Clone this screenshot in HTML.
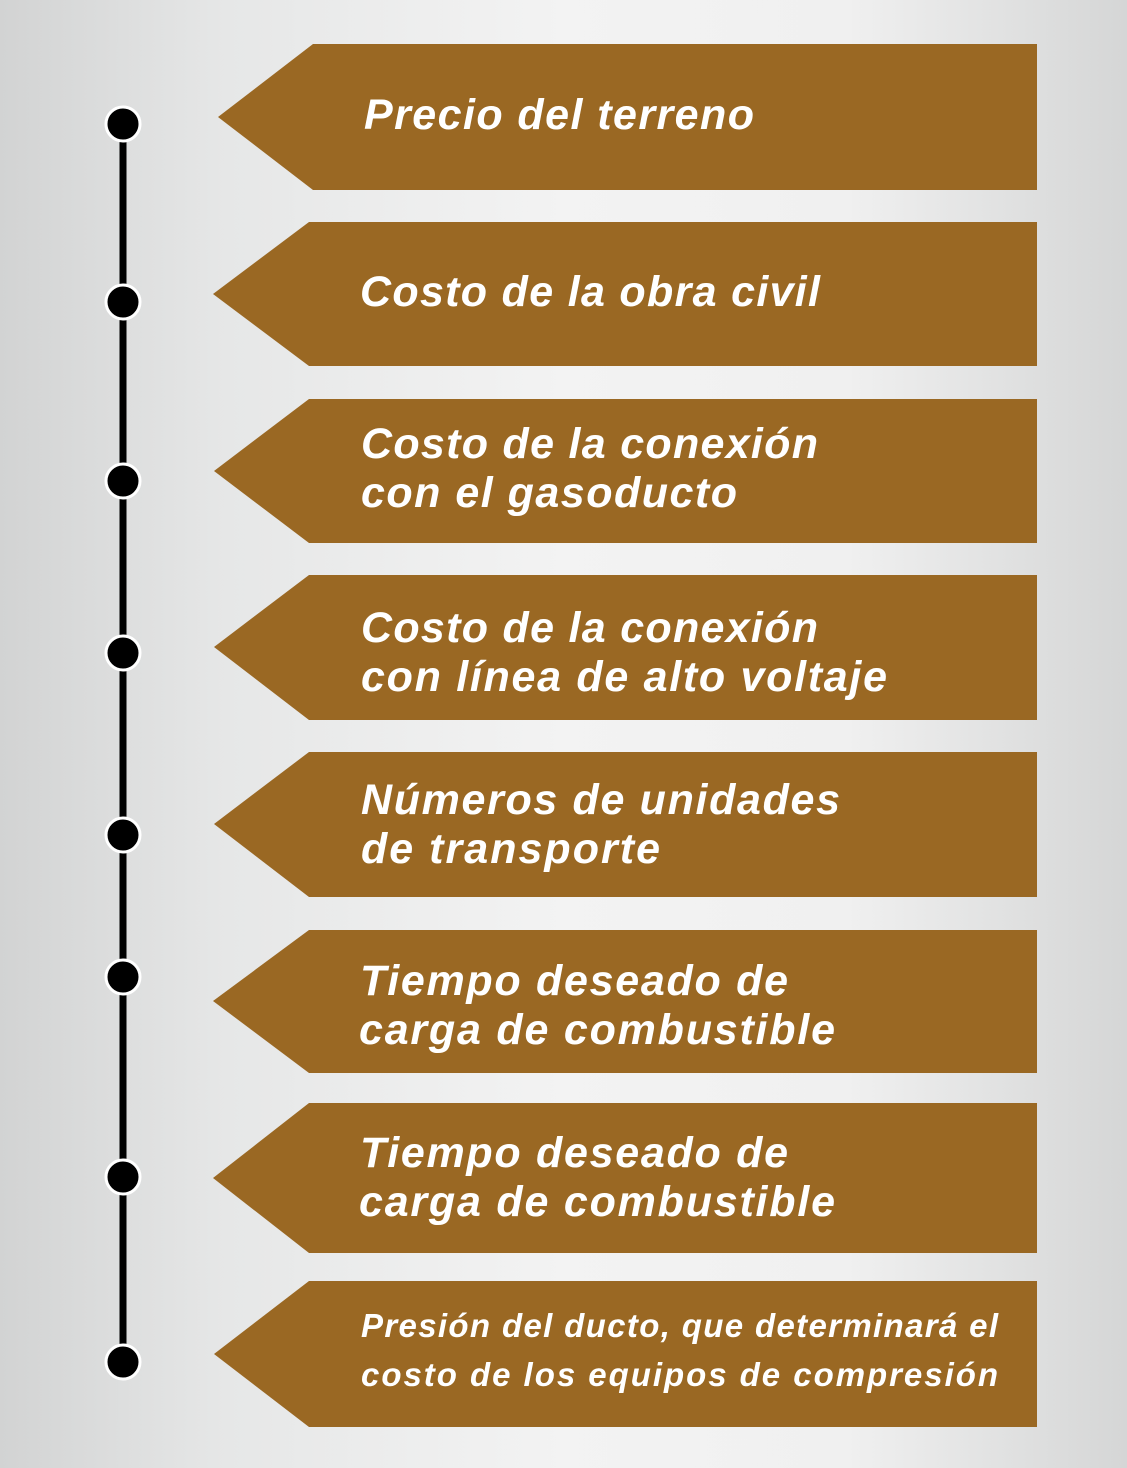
<!DOCTYPE html>
<html><head><meta charset="utf-8"><style>
html,body{margin:0;padding:0}
body{width:1127px;height:1463px;overflow:hidden;background:linear-gradient(90deg,#d2d3d3 0%,#e6e7e7 20%,#f3f3f3 50%,#f0f0f0 75%,#d5d6d6 100%)}
text{font-family:"Liberation Sans",sans-serif;font-style:italic;font-weight:bold;fill:#fff;font-size:43px}
.s{font-size:33px}
</style></head><body>
<svg width="1127" height="1463" xmlns="http://www.w3.org/2000/svg">
<g fill="#9a6823">
<polygon points="218,117 313,44 1037,44 1037,190 313,190"/>
<polygon points="213,294 309,222 1037,222 1037,366 309,366"/>
<polygon points="214,471 309,399 1037,399 1037,543 309,543"/>
<polygon points="214,647 309,575 1037,575 1037,720 309,720"/>
<polygon points="214,824 309,752 1037,752 1037,897 309,897"/>
<polygon points="213,1001 309,930 1037,930 1037,1073 309,1073"/>
<polygon points="213,1178 309,1103 1037,1103 1037,1253 309,1253"/>
<polygon points="214,1354 309,1281 1037,1281 1037,1427 309,1427"/>
</g>
<line x1="123" y1="124" x2="123" y2="1362" stroke="#000" stroke-width="7"/>
<g fill="#000" stroke="#fff" stroke-width="3">
<circle cx="123" cy="124" r="17"/><circle cx="123" cy="302" r="17"/><circle cx="123" cy="481" r="17"/><circle cx="123" cy="653" r="17"/>
<circle cx="123" cy="835" r="17"/><circle cx="123" cy="977" r="17"/><circle cx="123" cy="1177" r="17"/><circle cx="123" cy="1362" r="17"/>
</g>
<g lengthAdjust="spacing">
<text x="364" y="129" textLength="390" lengthAdjust="spacing">Precio del terreno</text>
<text x="360" y="306" textLength="460" lengthAdjust="spacing">Costo de la obra civil</text>
<text x="361" y="458" textLength="457" lengthAdjust="spacing">Costo de la conexión</text>
<text x="361" y="507" textLength="376" lengthAdjust="spacing">con el gasoducto</text>
<text x="361" y="642" textLength="457" lengthAdjust="spacing">Costo de la conexión</text>
<text x="361" y="691" textLength="526" lengthAdjust="spacing">con línea de alto voltaje</text>
<text x="361" y="814" textLength="479" lengthAdjust="spacing">Números de unidades</text>
<text x="361" y="863" textLength="299" lengthAdjust="spacing">de transporte</text>
<text x="360" y="995" textLength="428" lengthAdjust="spacing">Tiempo deseado de</text>
<text x="359" y="1044" textLength="476" lengthAdjust="spacing">carga de combustible</text>
<text x="360" y="1167" textLength="428" lengthAdjust="spacing">Tiempo deseado de</text>
<text x="359" y="1216" textLength="476" lengthAdjust="spacing">carga de combustible</text>
<text class="s" x="361" y="1337" textLength="637" lengthAdjust="spacing">Presión del ducto, que determinará el</text>
<text class="s" x="361" y="1386" textLength="637" lengthAdjust="spacing">costo de los equipos de compresión</text>
</g>
</svg>
</body></html>
